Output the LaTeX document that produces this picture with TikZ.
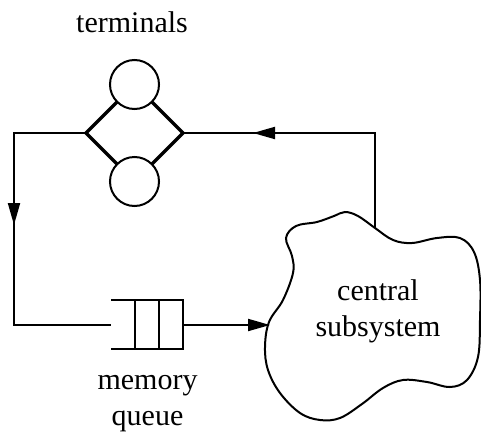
\documentclass[tikz,border=0pt]{standalone}
\usepackage{fontspec}
\newfontfamily\labelfont{Liberation Serif}
\usetikzlibrary{arrows.meta,decorations.markings}

\tikzset{
  wire/.style={line width=2pt},
  diam/.style={line width=3.2pt, line join=miter},
  station/.style={circle, draw, line width=2pt, fill=white, minimum size=49pt, inner sep=0pt},
  lbl/.style={font=\labelfont\fontsize{30}{36}\selectfont, inner sep=0pt, align=center},
  tip/.style={-{Triangle[length=22pt,width=12pt]}},
  midarrow/.style={postaction={decorate}, decoration={markings,
      mark=at position #1 with {\arrow{Triangle[length=22pt,width=12pt]}}}}
}

\begin{document}
\begin{tikzpicture}[x=1pt,y=-1pt]
\useasboundingbox (0,0) rectangle (481,431);

% terminal station: diamond with two servers
\coordinate (dl) at (86,133);
\coordinate (dr) at (183,133);
\coordinate (dt) at (134.5,84.5);
\coordinate (db) at (134.5,181.5);
\draw[diam] (dl) -- (dt) -- (dr) -- (db) -- cycle;
\node[station] (t1) at (dt) {};
\node[station] (t2) at (db) {};
\node[lbl, anchor=base] (tlabel) at (132,32) {terminals};

% memory queue
\coordinate (qin) at (111,325);
\coordinate (qout) at (183,325);
\draw[wire] (111,300) -- (183,300) -- (183,349) -- (111,349);
\draw[wire] (135,300) -- (135,349);
\draw[wire] (159,300) -- (159,349);
\node[lbl] (qlabel) at (147.5,404) {memory\\queue};

% central subsystem cloud
\draw[wire] plot[smooth cycle, tension=0.6] coordinates {
  (375,228) (393,240) (412,243) (437,238) (460,238) (474,252)
  (480,280) (480,320) (478,357) (467,380) (450,387) (427,382)
  (403,380) (383,388) (362,404) (340,418) (320,420) (300,413)
  (280,393) (268,370) (265,347) (269,322) (283,300) (293,273)
  (292,256) (286,238) (296,226) (317,222) (334,216) (345,212)
  (358,216)};
\coordinate (cin) at (270,325);
\coordinate (ctop) at (375,228);
\node[lbl] (central) at (378,311.5) {central\\subsystem};

% connectors
\draw[wire, midarrow=164pt] (dl) -- (14,133) -- (14,325) -- (qin);
\draw[wire, tip] (qout) -- (cin);
\draw[wire, midarrow=217pt] (ctop) -- (375,133) -- (dr);
\end{tikzpicture}
\end{document}
